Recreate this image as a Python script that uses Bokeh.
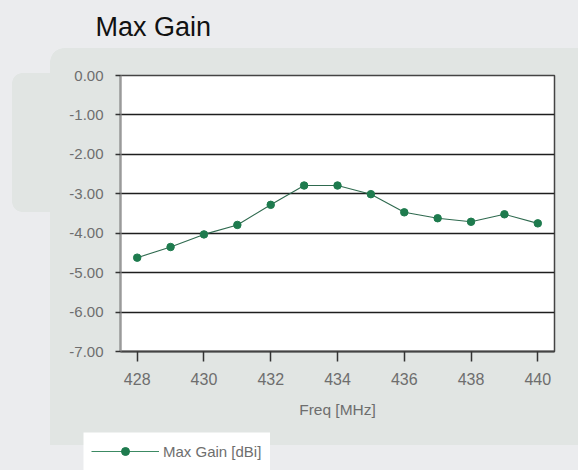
from bokeh.plotting import figure
from bokeh.models import (Range1d, FixedTicker, PrintfTickFormatter, Legend, LegendItem, Title, Spacer)
from bokeh.layouts import column, row
from bokeh.embed import file_html
from bokeh.resources import INLINE

# ---- data ----
freq_mhz = [428, 429, 430, 431, 432, 433, 434, 435, 436, 437, 438, 439, 440]
max_gain_dbi = [-4.62, -4.35, -4.03, -3.79, -3.28, -2.79, -2.79, -3.01, -3.47, -3.62, -3.71, -3.52, -3.75]
x_ticks = [428, 430, 432, 434, 436, 438, 440]
y_ticks = [0, -1, -2, -3, -4, -5, -6, -7]
title_text = "Max Gain"
x_label = "Freq [MHz]"
series_label = "Max Gain [dBi]"

FONT = "Liberation Sans"
PAGE_BG = "#ebecee"
PANEL_BG = "#e1e5e3"
LABEL_GRAY = "#6e6e6e"
GREEN = "#1e7b4e"
LINE_GREEN = "#2f6a4f"

W, H = 578, 470
CHART_H = 432

p = figure(width=W, height=CHART_H, output_backend="svg", toolbar_location=None,
           x_range=Range1d(427.5, 440.5), y_range=Range1d(-7, 0),
           min_border_left=120, min_border_right=24, min_border_top=75, min_border_bottom=81)
p.border_fill_color = None
p.background_fill_color = "white"
p.outline_line_color = "#444444"
p.outline_line_width = 1.5

# spacer between frame and title (nearest the frame), real title outermost
spacer = Title(text=" ", text_font_size="1px", standoff=21)
p.add_layout(spacer, "above")

p.title.text = title_text
p.title.text_font = FONT
p.title.text_font_size = "27px"
p.title.text_font_style = "normal"
p.title.text_color = "#111111"
p.title.align = "left"
p.title.offset = -25
p.title.standoff = 19

# grids
p.xgrid.grid_line_color = None
p.ygrid.ticker = FixedTicker(ticks=y_ticks)
p.ygrid.grid_line_color = "#1e1e1e"
p.ygrid.grid_line_width = 1.6

# axes
p.yaxis.ticker = FixedTicker(ticks=y_ticks)
p.yaxis.formatter = PrintfTickFormatter(format="%.2f")
p.yaxis.axis_line_color = "#9a9a9a"
p.yaxis.axis_line_width = 2
p.yaxis.major_tick_out = 5
p.yaxis.major_tick_in = 0
p.yaxis.major_tick_line_color = "#333333"
p.yaxis.major_tick_line_width = 1.5
p.yaxis.minor_tick_line_color = None
p.yaxis.major_label_text_font = FONT
p.yaxis.major_label_text_font_size = "15px"
p.yaxis.major_label_text_color = LABEL_GRAY
p.yaxis.major_label_standoff = 12

p.xaxis.ticker = FixedTicker(ticks=x_ticks)
p.xaxis.axis_line_color = "#444444"
p.xaxis.axis_line_width = 2
p.xaxis.major_tick_out = 10
p.xaxis.major_tick_in = 0
p.xaxis.major_tick_line_color = "#333333"
p.xaxis.major_tick_line_width = 1.5
p.xaxis.minor_tick_line_color = None
p.xaxis.major_label_text_font = FONT
p.xaxis.major_label_text_font_size = "16px"
p.xaxis.major_label_text_color = LABEL_GRAY
p.xaxis.major_label_standoff = 11
p.xaxis.axis_label = x_label
p.xaxis.axis_label_text_font = FONT
p.xaxis.axis_label_text_font_size = "15.5px"
p.xaxis.axis_label_text_font_style = "normal"
p.xaxis.axis_label_text_color = LABEL_GRAY
p.xaxis.axis_label_standoff = 13

# series
p.line(freq_mhz, max_gain_dbi, line_color=LINE_GREEN, line_width=1.1)
p.scatter(freq_mhz, max_gain_dbi, marker="circle", size=7.5, fill_color=GREEN, line_color=GREEN)

# legend strip below the chart (separate small figure so the box can sit outside the frame)
lg = figure(width=187, height=38, output_backend="svg", toolbar_location=None,
            x_range=Range1d(0, 1), y_range=Range1d(0, 1),
            x_axis_type=None, y_axis_type=None, min_border=0)
lg.outline_line_color = None
lg.background_fill_color = "white"
lg.border_fill_color = "white"
lg.grid.visible = False
l_ln = lg.line(freq_mhz, max_gain_dbi, line_color="#3c8a63", line_width=1.2)
l_sc = lg.scatter(freq_mhz, max_gain_dbi, marker="circle", size=8, fill_color=GREEN, line_color=GREEN)
legend = Legend(items=[LegendItem(label=series_label, renderers=[l_ln, l_sc])],
                location=(8, 9), orientation="vertical",
                background_fill_color="white", background_fill_alpha=1,
                border_line_color=None, padding=0, margin=0, spacing=0,
                glyph_width=68, glyph_height=20, label_height=20, label_standoff=4,
                label_text_font=FONT, label_text_font_size="15px",
                label_text_color=LABEL_GRAY)
lg.add_layout(legend, "center")

# page / panel background drawn behind the transparent chart canvas
P = PANEL_BG
layers = [
    f"radial-gradient(circle at 14px 14px, {P} 13.5px, transparent 14px) 50px 48px / 14px 14px no-repeat",
    f"linear-gradient({P}, {P}) 64px 48px / 514px 397px no-repeat",
    f"linear-gradient({P}, {P}) 50px 62px / 14px 383px no-repeat",
    f"radial-gradient(circle at 10px 10px, {P} 9.5px, transparent 10px) 12px 73px / 10px 10px no-repeat",
    f"radial-gradient(circle at 10px 0px, {P} 9.5px, transparent 10px) 12px 202px / 10px 10px no-repeat",
    f"linear-gradient({P}, {P}) 22px 73px / 30px 139px no-repeat",
    f"linear-gradient({P}, {P}) 12px 83px / 10px 119px no-repeat",
    PAGE_BG,
]

layout = column(p, row(Spacer(width=83, height=38), lg, spacing=0), spacing=0,
                styles={"background": ", ".join(layers)})

html = file_html(layout, INLINE)
html = html.replace("<body>", '<body style="background:%s;">' % PAGE_BG, 1)
open("out.html", "w").write(html)
